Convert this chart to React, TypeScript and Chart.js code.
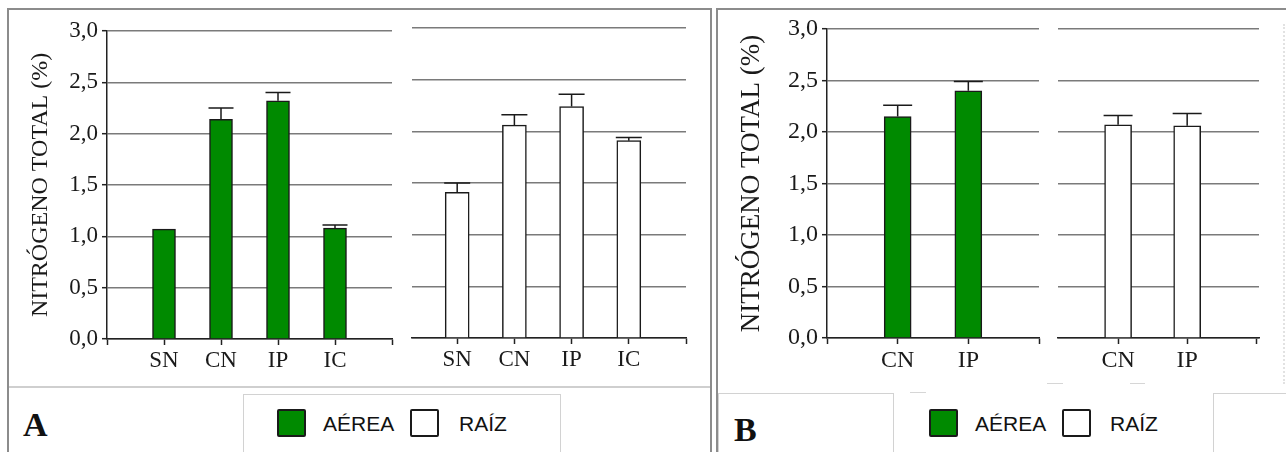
import React, { useEffect, useRef } from "react";
import { Chart, registerables } from "chart.js";

Chart.register(...registerables);

// ---- data ----
const categoriesA = ["SN", "CN", "IP", "IC"];
const aereaA = [1.07, 2.14, 2.32, 1.08];
const aereaErrA = [0, 0.11, 0.08, 0.03];
const raizA = [1.41, 2.06, 2.24, 1.91];
const raizErrA = [0.09, 0.1, 0.12, 0.03];

const categoriesB = ["CN", "IP"];
const aereaB = [2.15, 2.4];
const aereaErrB = [0.11, 0.09];
const raizB = [2.07, 2.06];
const raizErrB = [0.09, 0.12];

const yTicks = [0, 0.5, 1, 1.5, 2, 2.5, 3];
const legendLabels = ["AÉREA", "RAÍZ"];
const yTitle = "NITRÓGENO TOTAL (%)";
const panelLabels = ["A", "B"];

const GREEN = "#008a00";
const SERIF = "'Liberation Serif', 'Times New Roman', serif";
const SANS = "'Liberation Sans', Arial, sans-serif";

// draws an error whisker with a cap above every bar
const errorBars = {
  id: "errorBars",
  afterDatasetsDraw(chart: any, _args: any, opts: any) {
    const errs: number[] = opts.errors || [];
    const meta = chart.getDatasetMeta(0);
    const yScale = chart.scales.y;
    const ctx = chart.ctx;
    ctx.save();
    ctx.strokeStyle = "#1a1a1a";
    ctx.lineWidth = 1.5;
    meta.data.forEach((bar: any, i: number) => {
      const e = errs[i];
      if (!e) return;
      const v = chart.data.datasets[0].data[i].y;
      const top = yScale.getPixelForValue(v + e);
      const half = bar.width / 2 + 1;
      ctx.beginPath();
      ctx.moveTo(bar.x, bar.y);
      ctx.lineTo(bar.x, top);
      ctx.moveTo(bar.x - half, top);
      ctx.lineTo(bar.x + half, top);
      ctx.stroke();
    });
    ctx.restore();
  },
};

type PanelProps = {
  left: number;
  top: number;
  width: number;
  height: number;
  axisW: number;
  axisH: number;
  padTop: number;
  padRight: number;
  cats: string[];
  values: number[];
  errs: number[];
  fill: string;
  barW: number;
  xMin: number;
  xMax: number;
  xTickVals: number[];
  showY: boolean;
  titleSize: number;
  tickSize: number;
};

function BarPanel(p: PanelProps) {
  const ref = useRef<HTMLCanvasElement | null>(null);

  useEffect(() => {
    if (!ref.current) return;
    const chart = new Chart(ref.current, {
      type: "bar",
      data: {
        datasets: [
          {
            data: p.values.map((v, i) => ({ x: i + 1, y: v })),
            backgroundColor: p.fill,
            borderColor: "#1a1a1a",
            borderWidth: 1.5,
            barThickness: p.barW,
          },
        ],
      },
      options: {
        animation: false,
        responsive: false,
        maintainAspectRatio: false,
        layout: { padding: { top: p.padTop, right: p.padRight, left: 0, bottom: 0 } },
        plugins: {
          legend: { display: false },
          tooltip: { enabled: false },
          errorBars: { errors: p.errs },
        } as any,
        scales: {
          x: {
            type: "linear",
            offset: false,
            min: p.xMin,
            max: p.xMax,
            afterBuildTicks: (s: any) => {
              s.ticks = p.xTickVals.map((v) => ({ value: v }));
            },
            afterFit: (s: any) => {
              s.height = p.axisH;
            },
            grid: {
              offset: false,
              drawOnChartArea: false,
              drawTicks: true,
              tickLength: 6,
              tickColor: "#222",
              tickWidth: 1.5,
            },
            border: { color: "#222", width: 1.5 },
            ticks: {
              autoSkip: false,
              maxRotation: 0,
              padding: 2,
              color: "#1a1a1a",
              font: { family: SERIF, size: p.tickSize },
              callback: (v: any) => p.cats[Number(v) - 1] ?? "",
            },
          },
          y: {
            min: 0,
            max: 3,
            afterBuildTicks: (s: any) => {
              s.ticks = yTicks.map((v) => ({ value: v }));
            },
            afterFit: (s: any) => {
              s.width = p.axisW;
            },
            grid: {
              color: "#7a7a7a",
              lineWidth: 1.4,
              drawTicks: p.showY,
              tickLength: 5,
              tickColor: "#222",
              tickWidth: 1.5,
            },
            border: { display: p.showY, color: "#222", width: 1.5 },
            ticks: {
              display: p.showY,
              padding: 4,
              color: "#1a1a1a",
              font: { family: SERIF, size: p.tickSize },
              callback: (v: any) => Number(v).toFixed(1).replace(".", ","),
            },
            title: {
              display: p.showY,
              text: yTitle,
              color: "#1a1a1a",
              padding: { top: 4, bottom: 0 },
              font: { family: SERIF, size: p.titleSize },
            },
          },
        },
      } as any,
      plugins: [errorBars as any],
    });
    return () => chart.destroy();
  }, []);

  return (
    <canvas
      ref={ref}
      width={p.width}
      height={p.height}
      style={{ position: "absolute", left: p.left, top: p.top, width: p.width, height: p.height }}
    />
  );
}

function Legend({ x }: { x: number[] }) {
  const sq = (left: number, fill: string) => (
    <div
      style={{
        position: "absolute",
        left,
        top: 409,
        width: 29,
        height: 28,
        boxSizing: "border-box",
        border: "2px solid #1a1a1a",
        borderRadius: 2,
        background: fill,
      }}
    />
  );
  const txt = (left: number, s: string) => (
    <div
      style={{
        position: "absolute",
        left,
        top: 410,
        lineHeight: "28px",
        fontFamily: SANS,
        fontSize: 21,
        color: "#111",
        whiteSpace: "nowrap",
      }}
    >
      {s}
    </div>
  );
  return (
    <>
      {sq(x[0], GREEN)}
      {txt(x[1], legendLabels[0])}
      {sq(x[2], "#fff")}
      {txt(x[3], legendLabels[1])}
    </>
  );
}

const abs = (s: React.CSSProperties): React.CSSProperties => ({ position: "absolute", boxSizing: "border-box", ...s });

export default function App() {
  return (
    <div style={{ position: "absolute", left: 0, top: 0, width: 1286, height: 452, overflow: "hidden", background: "#fff" }}>
      {/* panel frames */}
      <div style={abs({ left: 7, top: 8, width: 705, height: 470, border: "2px solid #8c8c8c" })} />
      <div style={abs({ left: 716, top: 8, width: 600, height: 470, borderLeft: "2px solid #8c8c8c", borderTop: "2px solid #8c8c8c" })} />
      <div style={abs({ left: 1283, top: 24, width: 2, height: 360, borderLeft: "2px dotted #e2e2e2" })} />

      {/* lower strip of panel A */}
      <div style={abs({ left: 9, top: 386, width: 701, height: 2, background: "#cfcfcf" })} />
      <div style={abs({ left: 243, top: 394, width: 318, height: 70, border: "1px solid #d2d2d2" })} />

      {/* lower strip of panel B */}
      <div style={abs({ left: 718, top: 393, width: 176, height: 70, border: "1px solid #d2d2d2" })} />
      <div style={abs({ left: 1213, top: 393, width: 100, height: 70, border: "1px solid #d2d2d2" })} />
      <div style={abs({ left: 910, top: 392, width: 16, height: 1, background: "#d6d6d6" })} />
      <div style={abs({ left: 1047, top: 383, width: 16, height: 1, background: "#d6d6d6" })} />
      <div style={abs({ left: 1130, top: 383, width: 15, height: 1, background: "#d6d6d6" })} />

      <div style={abs({ left: 23, top: 408, fontFamily: SERIF, fontWeight: "bold", fontSize: 34, lineHeight: "34px", color: "#111" })}>
        {panelLabels[0]}
      </div>
      <div style={abs({ left: 734, top: 413, fontFamily: SERIF, fontWeight: "bold", fontSize: 34, lineHeight: "34px", color: "#111" })}>
        {panelLabels[1]}
      </div>

      <Legend x={[277, 323, 410, 459]} />
      <Legend x={[929, 975, 1062, 1110]} />

      {/* A: aerial part */}
      <BarPanel
        left={22}
        top={0}
        width={378}
        height={385}
        axisW={85}
        axisH={46}
        padTop={31}
        padRight={8}
        cats={categoriesA}
        values={aereaA}
        errs={aereaErrA}
        fill={GREEN}
        barW={23}
        xMin={0}
        xMax={5}
        xTickVals={[0, 1, 2, 3, 4, 5]}
        showY={true}
        titleSize={24}
        tickSize={23}
      />
      {/* A: root */}
      <BarPanel
        left={400}
        top={0}
        width={300}
        height={385}
        axisW={12}
        axisH={47}
        padTop={28}
        padRight={14}
        cats={categoriesA}
        values={raizA}
        errs={raizErrA}
        fill="#ffffff"
        barW={24}
        xMin={0.21}
        xMax={5}
        xTickVals={[1, 2, 3, 4, 5]}
        showY={false}
        titleSize={24}
        tickSize={23}
      />
      {/* B: aerial part */}
      <BarPanel
        left={732}
        top={0}
        width={316}
        height={385}
        axisW={95}
        axisH={47}
        padTop={29}
        padRight={9}
        cats={categoriesB}
        values={aereaB}
        errs={aereaErrB}
        fill={GREEN}
        barW={27}
        xMin={0}
        xMax={3}
        xTickVals={[0, 1, 2, 3]}
        showY={true}
        titleSize={27}
        tickSize={24}
      />
      {/* B: root */}
      <BarPanel
        left={1048}
        top={0}
        width={232}
        height={385}
        axisW={10}
        axisH={47}
        padTop={29}
        padRight={21}
        cats={categoriesB}
        values={raizB}
        errs={raizErrB}
        fill="#ffffff"
        barW={27}
        xMin={0.13}
        xMax={3.04}
        xTickVals={[1, 2, 3]}
        showY={false}
        titleSize={27}
        tickSize={24}
      />
    </div>
  );
}
